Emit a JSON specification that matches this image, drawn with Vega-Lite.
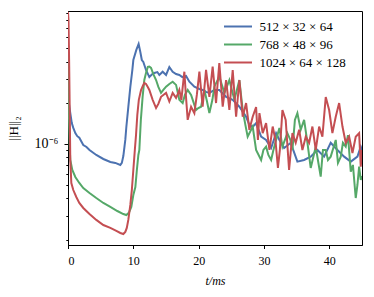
{
  "$schema": "https://vega.github.io/schema/vega-lite/v6.json",
  "width": 294,
  "height": 234,
  "autosize": {"type": "none"},
  "padding": {"left": 68, "top": 11, "right": 12, "bottom": 52},
  "background": "white",
  "datasets": {
    "blue": [
      {"t":0,"H":2.20e-6},{"t":0.35,"H":1.68e-6},{"t":0.58,"H":1.42e-6},{"t":0.81,"H":1.31e-6},{"t":1.12,"H":1.20e-6},{"t":1.42,"H":1.14e-6},{"t":1.73,"H":1.11e-6},{"t":2.34,"H":0.983e-6},{"t":2.83,"H":0.951e-6},{"t":3.29,"H":0.904e-6},{"t":4.33,"H":0.831e-6},{"t":5.41,"H":0.777e-6},{"t":6.48,"H":0.739e-6},{"t":7.24,"H":0.727e-6},{"t":8.01,"H":0.703e-6},{"t":8.24,"H":0.727e-6},{"t":8.47,"H":0.817e-6},{"t":8.77,"H":1.07e-6},{"t":8.93,"H":1.33e-6},{"t":9.23,"H":1.86e-6},{"t":9.54,"H":2.61e-6},{"t":9.85,"H":3.47e-6},{"t":10.0,"H":4.10e-6},{"t":10.46,"H":4.86e-6},{"t":10.81,"H":5.37e-6},{"t":11.07,"H":4.69e-6},{"t":11.30,"H":4.10e-6},{"t":11.53,"H":3.97e-6},{"t":11.94,"H":3.47e-6},{"t":12.45,"H":3.08e-6},{"t":12.91,"H":3.24e-6},{"t":13.22,"H":3.30e-6},{"t":13.68,"H":3.35e-6},{"t":13.98,"H":3.19e-6},{"t":14.49,"H":3.37e-6},{"t":15.01,"H":3.19e-6},{"t":15.51,"H":3.65e-6},{"t":16.02,"H":3.37e-6},{"t":16.54,"H":3.24e-6},{"t":17.04,"H":3.19e-6},{"t":17.50,"H":3.08e-6},{"t":18.07,"H":3.14e-6},{"t":18.58,"H":2.85e-6},{"t":19.34,"H":2.62e-6},{"t":20.11,"H":2.52e-6},{"t":20.61,"H":2.48e-6},{"t":21.13,"H":2.40e-6},{"t":21.64,"H":2.36e-6},{"t":22.40,"H":2.48e-6},{"t":23.16,"H":2.48e-6},{"t":24.20,"H":2.21e-6},{"t":25.21,"H":2.10e-6},{"t":26.23,"H":1.87e-6},{"t":27.26,"H":1.58e-6},{"t":27.76,"H":1.38e-6},{"t":28.27,"H":1.33e-6},{"t":28.79,"H":1.42e-6},{"t":29.56,"H":1.13e-6},{"t":30.32,"H":1.07e-6},{"t":31.09,"H":0.935e-6},{"t":31.85,"H":1.20e-6},{"t":32.36,"H":1.07e-6},{"t":33.08,"H":0.935e-6},{"t":34.09,"H":1.02e-6},{"t":35.11,"H":0.743e-6},{"t":36.14,"H":0.764e-6},{"t":37.15,"H":0.808e-6},{"t":38.18,"H":0.904e-6},{"t":39.20,"H":0.808e-6},{"t":40.21,"H":1.02e-6},{"t":41.24,"H":0.904e-6},{"t":42.27,"H":0.808e-6},{"t":43.28,"H":0.743e-6},{"t":44.30,"H":0.808e-6},{"t":44.81,"H":0.956e-6},{"t":45.0,"H":0.904e-6}
    ],
    "green": [
      {"t":0,"H":5.74e-6},{"t":0.12,"H":1.77e-6},{"t":0.28,"H":0.904e-6},{"t":0.35,"H":0.764e-6},{"t":0.66,"H":0.646e-6},{"t":1.12,"H":0.574e-6},{"t":1.73,"H":0.519e-6},{"t":2.34,"H":0.477e-6},{"t":3.29,"H":0.439e-6},{"t":4.33,"H":0.403e-6},{"t":5.41,"H":0.371e-6},{"t":6.48,"H":0.347e-6},{"t":7.55,"H":0.324e-6},{"t":8.47,"H":0.308e-6},{"t":8.93,"H":0.303e-6},{"t":9.31,"H":0.314e-6},{"t":9.69,"H":0.347e-6},{"t":10.0,"H":0.424e-6},{"t":10.31,"H":0.485e-6},{"t":10.54,"H":0.646e-6},{"t":10.77,"H":0.831e-6},{"t":10.92,"H":0.904e-6},{"t":11.15,"H":1.50e-6},{"t":11.42,"H":2.21e-6},{"t":11.68,"H":2.93e-6},{"t":11.94,"H":3.30e-6},{"t":12.22,"H":3.65e-6},{"t":12.45,"H":3.67e-6},{"t":12.71,"H":3.59e-6},{"t":13.06,"H":3.24e-6},{"t":13.48,"H":2.93e-6},{"t":13.83,"H":2.61e-6},{"t":14.24,"H":2.36e-6},{"t":14.59,"H":2.48e-6},{"t":15.01,"H":2.62e-6},{"t":15.51,"H":2.74e-6},{"t":16.02,"H":2.85e-6},{"t":16.54,"H":2.70e-6},{"t":17.04,"H":2.10e-6},{"t":17.55,"H":1.99e-6},{"t":17.89,"H":2.28e-6},{"t":18.32,"H":2.48e-6},{"t":18.84,"H":2.28e-6},{"t":19.19,"H":2.03e-6},{"t":19.60,"H":1.77e-6},{"t":19.95,"H":1.83e-6},{"t":20.37,"H":1.87e-6},{"t":20.87,"H":2.48e-6},{"t":21.26,"H":2.06e-6},{"t":21.64,"H":1.68e-6},{"t":22.10,"H":2.10e-6},{"t":22.40,"H":2.62e-6},{"t":23.16,"H":3.10e-6},{"t":23.55,"H":2.70e-6},{"t":23.94,"H":2.36e-6},{"t":24.70,"H":2.93e-6},{"t":25.08,"H":2.48e-6},{"t":25.47,"H":2.10e-6},{"t":26.23,"H":2.93e-6},{"t":26.74,"H":1.77e-6},{"t":27.15,"H":1.38e-6},{"t":27.50,"H":1.13e-6},{"t":28.27,"H":1.34e-6},{"t":28.79,"H":0.904e-6},{"t":29.56,"H":0.764e-6},{"t":29.91,"H":0.904e-6},{"t":30.32,"H":0.956e-6},{"t":30.67,"H":0.831e-6},{"t":31.09,"H":0.764e-6},{"t":31.44,"H":0.904e-6},{"t":31.85,"H":1.07e-6},{"t":32.36,"H":1.31e-6},{"t":32.82,"H":0.956e-6},{"t":33.58,"H":1.20e-6},{"t":34.04,"H":1.07e-6},{"t":34.35,"H":0.904e-6},{"t":34.73,"H":1.50e-6},{"t":35.11,"H":1.68e-6},{"t":35.62,"H":1.27e-6},{"t":36.14,"H":1.50e-6},{"t":36.65,"H":1.02e-6},{"t":37.15,"H":0.668e-6},{"t":37.92,"H":0.956e-6},{"t":38.25,"H":0.764e-6},{"t":38.68,"H":0.577e-6},{"t":39.02,"H":0.904e-6},{"t":39.45,"H":0.904e-6},{"t":39.79,"H":0.764e-6},{"t":40.21,"H":0.808e-6},{"t":40.98,"H":1.07e-6},{"t":41.32,"H":0.727e-6},{"t":41.75,"H":0.808e-6},{"t":42.08,"H":1.02e-6},{"t":42.51,"H":0.956e-6},{"t":42.85,"H":1.16e-6},{"t":43.28,"H":0.628e-6},{"t":43.61,"H":0.703e-6},{"t":44.04,"H":0.403e-6},{"t":44.30,"H":0.502e-6},{"t":44.56,"H":0.683e-6},{"t":44.81,"H":0.546e-6},{"t":45.0,"H":0.584e-6}
    ],
    "red": [
      {"t":0,"H":9.19e-6},{"t":0.08,"H":8.04e-6},{"t":0.17,"H":4.10e-6},{"t":0.28,"H":1.50e-6},{"t":0.35,"H":0.764e-6},{"t":0.51,"H":0.519e-6},{"t":0.81,"H":0.461e-6},{"t":1.27,"H":0.410e-6},{"t":1.73,"H":0.371e-6},{"t":2.34,"H":0.341e-6},{"t":3.29,"H":0.308e-6},{"t":4.33,"H":0.279e-6},{"t":5.41,"H":0.256e-6},{"t":6.48,"H":0.244e-6},{"t":7.40,"H":0.232e-6},{"t":8.01,"H":0.224e-6},{"t":8.47,"H":0.220e-6},{"t":8.77,"H":0.228e-6},{"t":9.00,"H":0.244e-6},{"t":9.23,"H":0.279e-6},{"t":9.54,"H":0.359e-6},{"t":9.77,"H":0.461e-6},{"t":10.0,"H":0.646e-6},{"t":10.23,"H":0.904e-6},{"t":10.41,"H":1.16e-6},{"t":10.61,"H":1.63e-6},{"t":10.84,"H":2.10e-6},{"t":11.18,"H":2.48e-6},{"t":11.45,"H":2.65e-6},{"t":11.68,"H":2.79e-6},{"t":11.94,"H":2.74e-6},{"t":12.19,"H":2.62e-6},{"t":12.45,"H":2.48e-6},{"t":12.96,"H":2.10e-6},{"t":13.48,"H":1.83e-6},{"t":13.83,"H":1.96e-6},{"t":14.24,"H":2.21e-6},{"t":14.59,"H":2.28e-6},{"t":15.01,"H":2.36e-6},{"t":15.51,"H":2.04e-6},{"t":16.02,"H":2.36e-6},{"t":16.54,"H":2.17e-6},{"t":16.81,"H":2.32e-6},{"t":17.04,"H":2.48e-6},{"t":17.35,"H":2.10e-6},{"t":17.81,"H":3.37e-6},{"t":18.04,"H":2.28e-6},{"t":18.32,"H":1.50e-6},{"t":18.84,"H":1.87e-6},{"t":19.34,"H":1.68e-6},{"t":19.72,"H":2.28e-6},{"t":20.11,"H":3.37e-6},{"t":20.61,"H":1.87e-6},{"t":21.13,"H":3.47e-6},{"t":21.64,"H":2.21e-6},{"t":22.14,"H":3.67e-6},{"t":22.66,"H":1.99e-6},{"t":23.16,"H":3.90e-6},{"t":23.68,"H":1.87e-6},{"t":24.20,"H":2.93e-6},{"t":24.70,"H":1.77e-6},{"t":25.21,"H":3.47e-6},{"t":25.73,"H":1.58e-6},{"t":26.23,"H":2.93e-6},{"t":26.74,"H":1.58e-6},{"t":27.26,"H":1.99e-6},{"t":27.76,"H":1.27e-6},{"t":28.27,"H":1.58e-6},{"t":28.79,"H":1.86e-6},{"t":29.07,"H":1.07e-6},{"t":29.30,"H":1.68e-6},{"t":29.80,"H":1.20e-6},{"t":30.32,"H":1.42e-6},{"t":30.83,"H":0.904e-6},{"t":31.33,"H":1.34e-6},{"t":31.75,"H":1.07e-6},{"t":32.13,"H":0.668e-6},{"t":32.43,"H":0.904e-6},{"t":32.82,"H":1.77e-6},{"t":33.32,"H":1.50e-6},{"t":33.84,"H":0.646e-6},{"t":34.35,"H":1.20e-6},{"t":34.85,"H":1.02e-6},{"t":35.38,"H":1.27e-6},{"t":35.88,"H":0.904e-6},{"t":36.39,"H":1.13e-6},{"t":36.91,"H":1.02e-6},{"t":37.41,"H":1.34e-6},{"t":37.92,"H":0.904e-6},{"t":38.44,"H":1.34e-6},{"t":38.94,"H":1.13e-6},{"t":39.45,"H":2.20e-6},{"t":39.97,"H":1.77e-6},{"t":40.47,"H":1.20e-6},{"t":40.98,"H":1.58e-6},{"t":41.50,"H":1.99e-6},{"t":42.01,"H":1.34e-6},{"t":42.51,"H":1.02e-6},{"t":43.03,"H":1.13e-6},{"t":43.54,"H":0.860e-6},{"t":44.04,"H":1.13e-6},{"t":44.56,"H":1.20e-6},{"t":44.81,"H":0.683e-6},{"t":45.0,"H":0.904e-6}
    ]
  },
  "encoding": {
    "x": {
      "field": "t", "type": "quantitative",
      "scale": {"domain": [0, 45], "nice": false, "zero": false},
      "axis": {"values": [0, 10, 20, 30, 40], "format": "d", "title": "t/ms", "titleFontStyle": "italic", "tickSize": 3.5, "labelPadding": 7, "titlePadding": 9, "grid": false}
    },
    "y": {
      "field": "H", "type": "quantitative",
      "scale": {"type": "log", "domain": [1.83e-7, 9.35e-6], "nice": false},
      "axis": {
        "values": [2e-7, 3e-7, 4e-7, 5e-7, 6e-7, 7e-7, 8e-7, 9e-7, 1e-6, 2e-6, 3e-6, 4e-6, 5e-6, 6e-6, 7e-6, 8e-6, 9e-6],
        "labelExpr": "abs(datum.value - 1e-6) < 1e-9 ? '10⁻⁶' : ''",
        "tickSize": {"condition": {"test": "abs(datum.value - 1e-6) < 1e-9", "value": 4}, "value": 2.2},
        "labelOverlap": false,
        "labelFontSize": 14,
        "labelPadding": 6,
        "title": "||H||₂",
        "titleFontSize": 13,
        "titlePadding": 14,
        "grid": false
      }
    },
    "color": {
      "field": "grid", "type": "nominal",
      "scale": {"domain": ["512 × 32 × 64", "768 × 48 × 96", "1024 × 64 × 128"], "range": ["#4C72B0", "#55A868", "#C44E52"]},
      "legend": {
        "title": null,
        "orient": "none",
        "legendX": 163.5,
        "legendY": 9,
        "padding": 0,
        "symbolType": "M-3.5,0H3.5",
        "symbolSize": 64,
        "symbolStrokeWidth": 2,
        "labelOffset": 15,
        "rowPadding": 4,
        "labelFont": "Liberation Serif",
        "labelFontSize": 13,
        "labelColor": "black"
      }
    }
  },
  "layer": [
    {"data": {"name": "blue"}, "transform": [{"calculate": "'512 × 32 × 64'", "as": "grid"}], "mark": {"type": "line", "strokeWidth": 2, "clip": true}},
    {"data": {"name": "green"}, "transform": [{"calculate": "'768 × 48 × 96'", "as": "grid"}], "mark": {"type": "line", "strokeWidth": 2, "clip": true}},
    {"data": {"name": "red"}, "transform": [{"calculate": "'1024 × 64 × 128'", "as": "grid"}], "mark": {"type": "line", "strokeWidth": 2, "clip": true}}
  ],
  "config": {
    "view": {"stroke": "black", "strokeWidth": 1},
    "axis": {
      "domainColor": "black", "domainWidth": 1, "tickColor": "black", "tickWidth": 1,
      "labelColor": "black", "titleColor": "black",
      "labelFont": "Liberation Serif", "titleFont": "Liberation Serif",
      "labelFontSize": 12, "titleFontSize": 12, "titleFontWeight": "normal"
    }
  }
}
